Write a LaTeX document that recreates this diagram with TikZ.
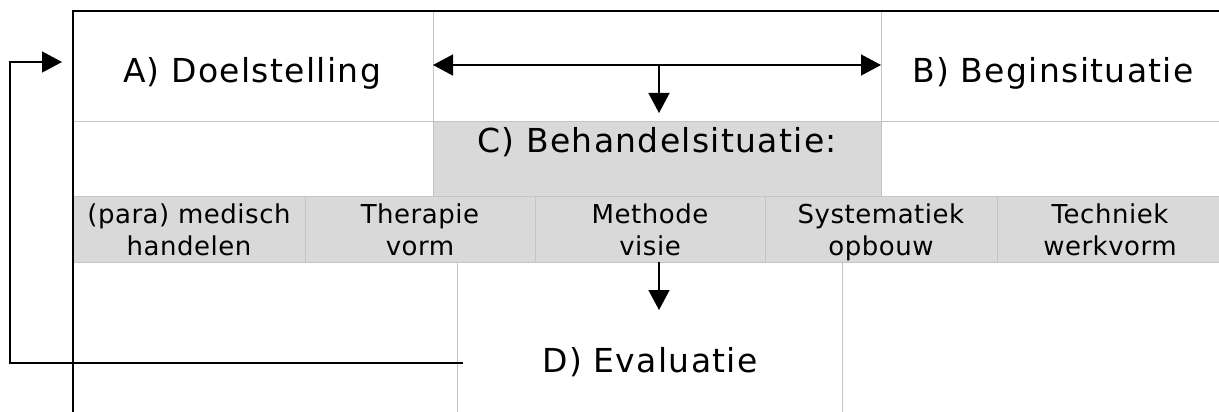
\documentclass[tikz,border=0pt]{standalone}
\usepackage{fontspec}
\setmainfont{DejaVu Sans}[LetterSpace=4]
\usetikzlibrary{arrows.meta,calc}
\definecolor{cellgray}{RGB}{217,217,217}
\definecolor{gridgray}{RGB}{196,196,196}
\tikzset{
  cellbox/.style={draw=gridgray, line width=1pt, inner sep=0pt, outer sep=0pt},
  shaded/.style={cellbox, fill=cellgray},
  biglabel/.style={font=\fontsize{33}{40}\selectfont, anchor=base, inner sep=0pt},
  smalllabel/.style={font=\addfontfeature{LetterSpace=2}\fontsize{26}{32}\selectfont, align=center, anchor=base, inner sep=0pt},
  tri/.tip={Triangle[length=20pt,width=21pt]},
  arr/.style={line width=1.3pt, -tri},
  frame/.style={line width=1.3pt, black}
}
\begin{document}
\begin{tikzpicture}[x=1pt,y=-1pt]
\useasboundingbox[fill=white] (0,0) rectangle (1219,412);
% row 1
\node[cellbox, minimum width=360pt, minimum height=110pt] (cellA) at (253,66) {};
\node[cellbox, minimum width=348pt, minimum height=110pt] (cellB) at (1055,66) {};
% row 2
\node[shaded, minimum width=448pt, minimum height=75pt] (cellC) at (657,158.5) {};
% row 3
\node[shaded, minimum width=232pt, minimum height=66pt] (m1) at (189,229) {};
\node[shaded, minimum width=230pt, minimum height=66pt] (m2) at (420,229) {};
\node[shaded, minimum width=230pt, minimum height=66pt] (m3) at (650,229) {};
\node[shaded, minimum width=232pt, minimum height=66pt] (m4) at (881,229) {};
\node[shaded, minimum width=232pt, minimum height=66pt] (m5) at (1113,229) {};
% row 4
\node[cellbox, minimum width=385pt, minimum height=160pt] (cellD) at (649.5,342) {};
% frame
\draw[frame] (73,412) -- (73,11) -- (1219,11);
% labels
\node[biglabel] (tA) at (252,82) {A) Doelstelling};
\node[biglabel] (tB) at (1053,82) {B) Beginsituatie};
\node[biglabel] (tC) at (657,152) {C) Behandelsituatie:};
\node[biglabel] (tD) at (650,372) {D) Evaluatie};
\node[smalllabel] (t1) at (189,255) {(para) medisch\\handelen};
\node[smalllabel] (t2) at (420,255) {Therapie\\vorm};
\node[smalllabel] (t3) at (650,255) {Methode\\visie};
\node[smalllabel] (t4) at (881,255) {Systematiek\\opbouw};
\node[smalllabel] (t5) at (1110,255) {Techniek\\werkvorm};
% connectors
\draw[line width=1.3pt, tri-tri] ([yshift=1pt]cellA.east) -- ([yshift=1pt]cellB.west);
\coordinate (split) at ($(cellA.east)!0.5!(cellB.west)+(2,-1)$);
\draw[arr, shorten >=8pt] (split) -- (split |- cellC.north);
\coordinate (dtip) at (659,310);
\draw[arr] (m3.south -| dtip) -- (dtip);
\coordinate (fb) at ($(cellD.west)+(6,21)$);
\draw[arr] (fb) -- (10,363) |- ($(cellA.west)+(-11,-4)$);
\end{tikzpicture}
\end{document}
